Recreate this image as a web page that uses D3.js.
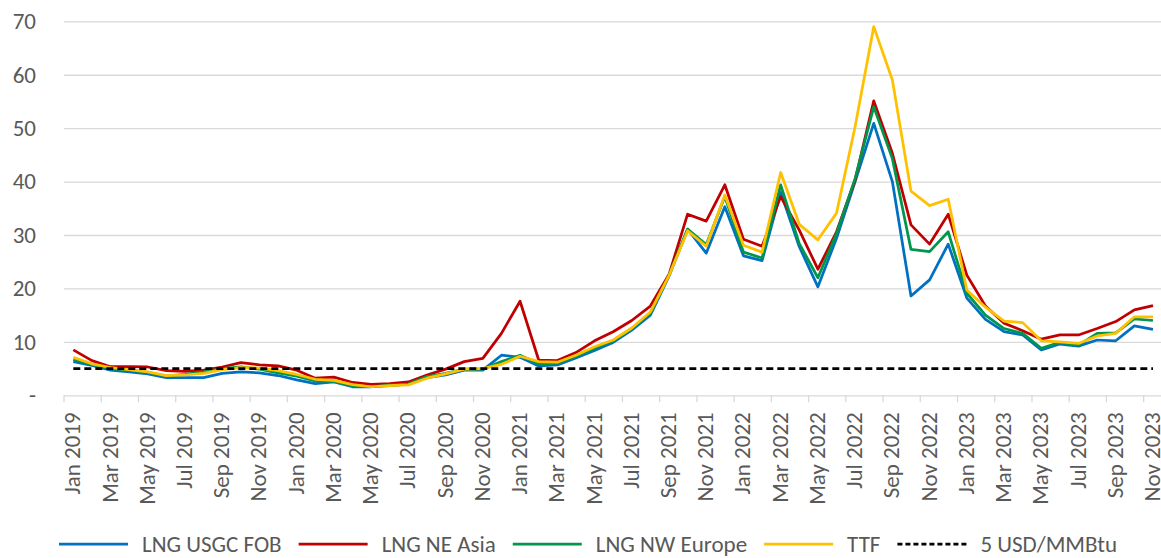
<!DOCTYPE html>
<html>
<head>
<meta charset="utf-8">
<script src="https://cdn.jsdelivr.net/npm/d3@7"></script>
<style>
  body { margin: 0; background: #fff; }
  svg text { font-family: Carlito, Calibri, Lato, sans-serif; fill: #595959; }
</style>
</head>
<body>
<div id="canvas"></div>
<script>
// monthly categories Jan 2019 .. Nov 2023
const months = d3.timeMonths(new Date(2019, 0, 1), new Date(2023, 11, 1)).map(d3.timeFormat("%b %Y"));

const usgc = [
  6.3, 5.6, 4.7, 4.4, 4.0, 3.3, 3.3, 3.3, 4.1, 4.4, 4.2, 3.7,
  2.9, 2.2, 2.5, 1.6, 1.6, 1.8, 2.1, 3.3, 3.8, 4.7, 4.7, 7.5,
  7.1, 5.5, 5.7, 7.0, 8.4, 9.9, 12.2, 15.0, 22.3, 31.1, 26.6, 35.3,
  26.1, 25.2, 38.0, 27.8, 20.3, 29.4, 40.0, 50.9, 40.0, 18.6, 21.6, 28.3,
  18.2, 14.2, 11.9, 11.3, 8.5, 9.6, 9.2, 10.35, 10.2, 13.0, 12.35
];
const neAsia = [
  8.5, 6.5, 5.35, 5.35, 5.3, 4.6, 4.5, 4.7, 5.3, 6.1, 5.7, 5.5,
  4.7, 3.2, 3.4, 2.4, 2.05, 2.2, 2.5, 3.8, 4.9, 6.3, 6.9, 11.6,
  17.6, 6.6, 6.5, 8.0, 10.2, 11.9, 14.0, 16.7, 22.6, 33.9, 32.6, 39.4,
  29.2, 27.9, 37.2, 30.9, 23.6, 30.6, 40.3, 55.1, 45.3, 31.9, 28.3, 33.9,
  22.5, 16.7, 13.5, 12.1, 10.5, 11.3, 11.3, 12.5, 13.8, 16.0, 16.8
];
const nwEurope = [
  6.7, 5.8, 5.0, 4.7, 4.3, 3.6, 3.9, 4.4, 5.0, 5.3, 4.9, 4.2,
  3.6, 2.7, 2.6, 1.8, 1.6, 1.9, 2.1, 3.5, 4.1, 4.9, 4.9, 6.3,
  7.5, 5.9, 6.0, 7.3, 8.8, 10.2, 12.5, 15.4, 22.5, 31.1, 28.2, 37.2,
  26.8, 25.7, 39.4, 28.4, 22.0, 30.3, 40.6, 54.0, 44.3, 27.3, 26.9, 30.6,
  19.1, 15.0, 12.5, 11.6, 8.8, 9.9, 9.4, 11.6, 11.7, 14.3, 14.0
];
const ttf = [
  7.1, 5.9, 5.2, 4.8, 4.4, 3.7, 3.8, 4.1, 4.8, 5.2, 5.1, 4.6,
  3.9, 3.0, 2.8, 2.0, 1.6, 1.8, 1.95, 3.2, 4.0, 4.9, 5.0, 5.8,
  7.3, 6.3, 6.2, 7.5, 9.1, 10.35, 12.6, 15.6, 22.4, 30.8, 27.9, 37.5,
  28.1, 26.8, 41.7, 32.0, 29.1, 34.1, 50.3, 69.0, 59.0, 38.2, 35.5, 36.7,
  19.7, 16.5, 13.9, 13.6, 10.2, 10.0, 9.7, 11.1, 11.6, 14.7, 14.7
];
const threshold = 5;
const yTicks = [0, 10, 20, 30, 40, 50, 60, 70];

const series = [
  { name: "LNG USGC FOB", values: usgc, color: "#0070C0" },
  { name: "LNG NE Asia", values: neAsia, color: "#C00000" },
  { name: "LNG NW Europe", values: nwEurope, color: "#00964B" },
  { name: "TTF", values: ttf, color: "#FFC000" },
  { name: "5 USD/MMBtu", values: months.map(() => threshold), color: "#000", dash: "7,4" }
];

const width = 1161;
const height = 558;
const margin = { left: 64, top: 21.3, bottom: 395.3 };
const bw = 18.615;

const svg = d3.select("#canvas").append("svg")
  .attr("width", width)
  .attr("height", height);

const x = d3.scaleBand()
  .domain(months)
  .range([margin.left, margin.left + bw * months.length]);

const y = d3.scaleLinear()
  .domain([0, 70])
  .range([margin.bottom, margin.top]);

// gridlines + y labels
const yAxis = svg.append("g")
  .attr("transform", `translate(${margin.left},0)`)
  .call(d3.axisLeft(y).tickValues(yTicks)
    .tickFormat((d) => (d === 0 ? "-" : d))
    .tickSize(-(width - margin.left))
    .tickPadding(28));
yAxis.select(".domain").remove();
yAxis.selectAll(".tick line").attr("stroke", "#d9d9d9").attr("stroke-width", 1.3);
yAxis.selectAll(".tick text").attr("font-size", 23).style("fill", "#595959");

// x axis tick marks at every 2nd category boundary
const tickIdx = d3.range(0, months.length + 1, 2);
svg.append("g").selectAll("line")
  .data(tickIdx)
  .join("line")
  .attr("x1", (i) => margin.left + i * x.bandwidth())
  .attr("x2", (i) => margin.left + i * x.bandwidth())
  .attr("y1", margin.bottom)
  .attr("y2", margin.bottom + 7)
  .attr("stroke", "#d9d9d9")
  .attr("stroke-width", 1.3);

// x labels
svg.append("g").selectAll("text")
  .data(months.filter((m, i) => i % 2 === 0))
  .join("text")
  .attr("transform", (d) => `translate(${x(d) + x.bandwidth() / 2 + 7},${margin.bottom + 17}) rotate(-90)`)
  .attr("text-anchor", "end")
  .attr("font-size", 23)
  .text((d) => d);

// lines
const line = d3.line()
  .x((d, i) => x(months[i]) + x.bandwidth() / 2)
  .y((d) => y(d));

svg.append("g").selectAll("path")
  .data(series)
  .join("path")
  .attr("fill", "none")
  .attr("stroke", (d) => d.color)
  .attr("stroke-width", 2.75)
  .attr("stroke-dasharray", (d) => d.dash || null)
  .attr("stroke-linejoin", "round")
  .attr("d", (d) => line(d.values));

// legend
const legend = svg.append("g").attr("transform", "translate(59,544)");
let lx = 0;
series.forEach((s) => {
  const g = legend.append("g").attr("transform", `translate(${lx},0)`);
  g.append("line")
    .attr("x1", 0).attr("x2", 69)
    .attr("stroke", s.color)
    .attr("stroke-width", 2.75)
    .attr("stroke-dasharray", s.dash ? "5,3" : null);
  const t = g.append("text")
    .attr("x", 83)
    .attr("y", 8)
    .attr("font-size", 23)
    .text(s.name);
  lx += 83 + t.node().getComputedTextLength() + 17;
});
</script>
</body>
</html>
